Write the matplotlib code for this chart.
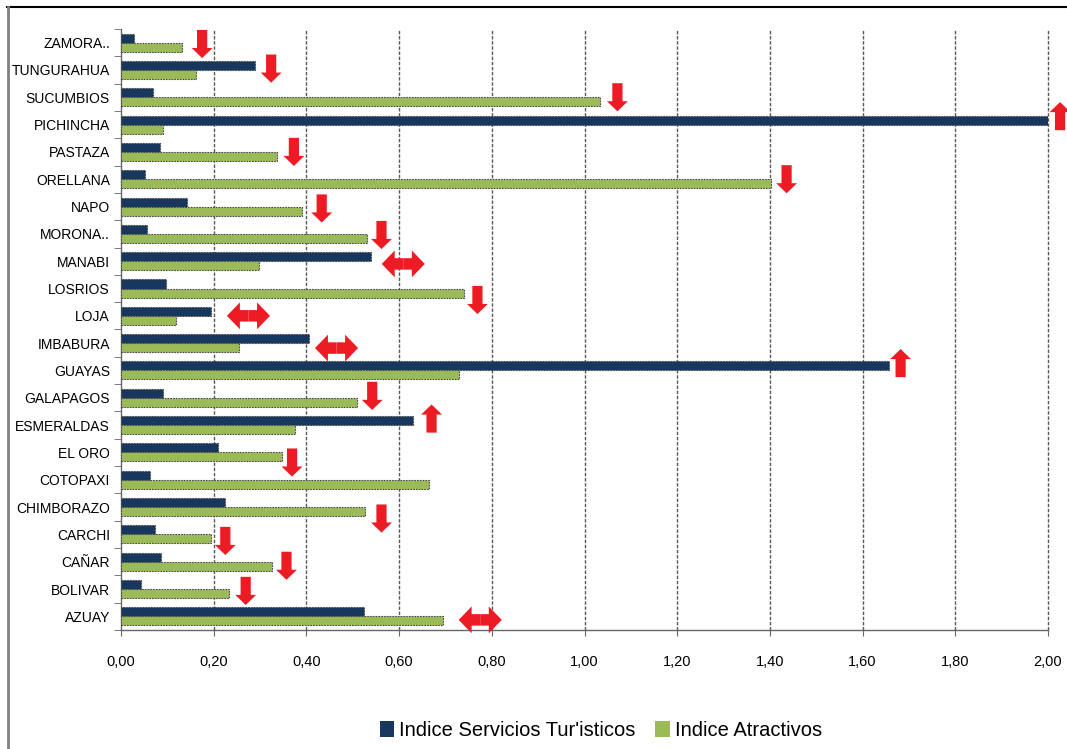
import matplotlib
matplotlib.use("Agg")
import matplotlib.pyplot as plt
from matplotlib.patches import FancyArrow
from matplotlib.lines import Line2D
from matplotlib.patches import Patch
import numpy as np

plt.rcParams['font.family'] = ['Liberation Sans', 'DejaVu Sans']

# Provinces, bottom to top
provinces = ["AZUAY", "BOLIVAR", "CAÑAR", "CARCHI", "CHIMBORAZO", "COTOPAXI",
             "EL ORO", "ESMERALDAS", "GALAPAGOS", "GUAYAS", "IMBABURA", "LOJA",
             "LOSRIOS", "MANABI", "MORONA..", "NAPO", "ORELLANA", "PASTAZA",
             "PICHINCHA", "SUCUMBIOS", "TUNGURAHUA", "ZAMORA.."]

servicios = [0.525, 0.043, 0.086, 0.073, 0.225, 0.063,
             0.210, 0.629, 0.091, 1.657, 0.406, 0.194,
             0.097, 0.540, 0.056, 0.143, 0.051, 0.084,
             2.000, 0.069, 0.289, 0.028]

atractivos = [0.695, 0.233, 0.325, 0.194, 0.527, 0.665,
              0.347, 0.376, 0.510, 0.730, 0.255, 0.119,
              0.739, 0.298, 0.531, 0.390, 1.403, 0.337,
              0.091, 1.034, 0.162, 0.132]

# Trend markers: (province, direction, x position, vertical offset from row centre)
trend_province = ["ZAMORA..", "TUNGURAHUA", "SUCUMBIOS", "PICHINCHA", "PASTAZA",
                  "ORELLANA", "NAPO", "MORONA..", "MANABI", "LOSRIOS", "LOJA",
                  "IMBABURA", "GUAYAS", "GALAPAGOS", "ESMERALDAS", "EL ORO",
                  "CHIMBORAZO", "CARCHI", "CAÑAR", "BOLIVAR", "AZUAY"]
trend_kind = ["down", "down", "down", "up", "down",
              "down", "down", "down", "both", "down", "both",
              "both", "up", "down", "up", "down",
              "down", "down", "down", "down", "both"]
trend_x = [0.175, 0.324, 1.071, 2.026, 0.373,
           1.436, 0.433, 0.562, 0.609, 0.769, 0.275,
           0.465, 1.682, 0.542, 0.670, 0.369,
           0.562, 0.225, 0.357, 0.269, 0.775]
trend_dy = [-0.05, 0.05, 0.0, 0.31, 0.0,
            0.0, -0.07, -0.04, -0.10, -0.42, 0.0,
            -0.18, 0.27, 0.07, 0.24, -0.37,
            -0.42, -0.24, -0.15, -0.07, -0.13]

xticks = [0.0, 0.2, 0.4, 0.6, 0.8, 1.0, 1.2, 1.4, 1.6, 1.8, 2.0]

BLUE = "#17375E"
GREEN = "#9BBB59"
RED = "#ED1C24"

fig = plt.figure(figsize=(10.67, 7.49), dpi=100)
ax = fig.add_axes([0.1134, 0.1589, 0.8688, 0.8024])

y = np.arange(len(provinces))
h = 0.33
edge_kw = dict(edgecolor="#4a4a4a", linewidth=0.8, linestyle=(0, (1.5, 1.0)))
ax.barh(y + h / 2, servicios, height=h, color=BLUE, zorder=3, **edge_kw)
ax.barh(y - h / 2, atractivos, height=h, color=GREEN, zorder=3, **edge_kw)

ax.set_xlim(0, 2.0)
ax.set_ylim(-0.5, len(provinces) - 0.5)

# gridlines
ax.set_xticks(xticks)
ax.set_xticklabels([f"{v:.2f}".replace(".", ",") for v in xticks], fontsize=10.5)
for v in xticks[1:]:
    ax.axvline(v, color="#5a5a5a", linewidth=1.0, linestyle=(0, (2.5, 1.2)), zorder=1,
               clip_on=False)

ax.set_yticks(y)
ax.set_yticklabels(provinces, fontsize=10)
ax.set_yticks(np.arange(-0.5, len(provinces)), minor=True)
ax.tick_params(axis="y", which="major", length=0, pad=8)
ax.tick_params(axis="y", which="minor", length=5, color="#666666")
ax.tick_params(axis="x", which="major", length=4, color="#666666", pad=14)

for side in ("top", "right"):
    ax.spines[side].set_visible(False)
for side in ("left", "bottom"):
    ax.spines[side].set_color("#666666")
    ax.spines[side].set_linestyle((0, (2.0, 1.0)))
    ax.spines[side].set_linewidth(1.0)

# trend arrows
idx = {p: i for i, p in enumerate(provinces)}
V_LEN, V_W, V_HW, V_HL = 1.03, 0.022, 0.045, 0.37
H_LEN, H_W, H_HW, H_HL = 0.093, 0.42, 0.98, 0.028
for p, k, xc, dy in zip(trend_province, trend_kind, trend_x, trend_dy):
    yc = idx[p] + dy
    if k == "down":
        arrows = [FancyArrow(xc, yc + V_LEN / 2, 0, -V_LEN, width=V_W, head_width=V_HW,
                             head_length=V_HL, length_includes_head=True)]
    elif k == "up":
        arrows = [FancyArrow(xc, yc - V_LEN / 2, 0, V_LEN, width=V_W, head_width=V_HW,
                             head_length=V_HL, length_includes_head=True)]
    else:
        arrows = [FancyArrow(xc, yc, s * H_LEN / 2, 0, width=H_W, head_width=H_HW,
                             head_length=H_HL, length_includes_head=True)
                  for s in (-1, 1)]
    for a in arrows:
        a.set_facecolor(RED)
        a.set_edgecolor("none")
        a.set_zorder(5)
        a.set_clip_on(False)
        ax.add_patch(a)

# legend
handles = [Patch(facecolor=BLUE, edgecolor="none"), Patch(facecolor=GREEN, edgecolor="none")]
fig.legend(handles, ["Indice Servicios Tur'isticos", "Indice Atractivos"],
           loc="center", bbox_to_anchor=(0.563, 0.025), ncol=2, frameon=False,
           fontsize=14.5, handlelength=0.7, handleheight=0.9, handletextpad=0.25,
           columnspacing=1.0)

# outer frame
fig.add_artist(Line2D([7 / 1067, 1.0], [1 - 7 / 749, 1 - 7 / 749], transform=fig.transFigure,
                      color="black", linewidth=1.5))
fig.add_artist(Line2D([8 / 1067, 8 / 1067], [0.0, 1 - 7 / 749], transform=fig.transFigure,
                      color="#808080", linewidth=2.0))

fig.savefig("out.png", dpi=100)
